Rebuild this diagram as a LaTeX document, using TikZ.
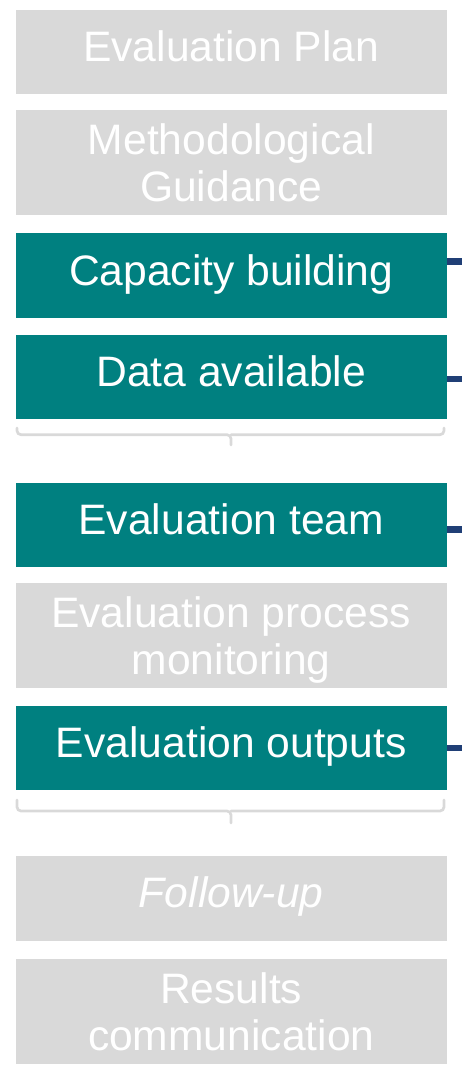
\documentclass[tikz,border=0pt]{standalone}
\usepackage{fontspec}
\setmainfont{Liberation Sans}
\definecolor{teal1}{HTML}{008080}
\definecolor{grey1}{HTML}{D9D9D9}
\definecolor{navy1}{HTML}{203F76}
\tikzset{
  box/.style={rectangle, inner sep=0pt, minimum width=431.5pt, draw=none},
  greybox/.style={box, fill=grey1},
  tealbox/.style={box, fill=teal1},
  lbl/.style={anchor=base, text=white, font=\fontsize{42.6}{47}\selectfont, inner sep=0pt},
  bracket/.style={draw=grey1, line width=2.7pt, rounded corners=4pt, line cap=round},
  tick/.style={draw=navy1, line width=6.5pt}
}
\begin{document}
\begin{tikzpicture}[x=1pt,y=-1pt]
\useasboundingbox (0,0) rectangle (462,1081);
% boxes
\node[greybox, minimum height=84pt]  (plan) at (231.25,52) {};
\node[greybox, minimum height=105pt] (meth) at (231.25,162.5) {};
\node[tealbox, minimum height=85pt]  (cap)  at (231.25,275.5) {};
\node[tealbox, minimum height=84pt]  (data) at (231.25,377) {};
\node[tealbox, minimum height=84pt]  (team) at (231.25,525) {};
\node[greybox, minimum height=105pt] (proc) at (231.25,635.5) {};
\node[tealbox, minimum height=84pt]  (outp) at (231.25,748) {};
\node[greybox, minimum height=85pt]  (foll) at (231.25,898.5) {};
\node[greybox, minimum height=105pt] (resu) at (231.25,1011.5) {};
% labels
\node[lbl] (planT) at ([yshift=-9.5pt]plan.center) {Evaluation Plan};
\node[lbl] (methA) at ([yshift=8pt]meth.center) {Methodological};
\node[lbl] (methB) at ([yshift=-39pt]meth.center) {Guidance};
\node[lbl] (capT)  at ([yshift=-9.5pt]cap.center) {Capacity building};
\node[lbl] (dataT) at ([yshift=-9.5pt]data.center) {Data available};
\node[lbl] (teamT) at ([yshift=-9.5pt]team.center) {Evaluation team};
\node[lbl] (procA) at ([yshift=8pt]proc.center) {Evaluation process};
\node[lbl] (procB) at ([yshift=-39pt]proc.center) {monitoring};
\node[lbl] (outpT) at ([yshift=-9.5pt]outp.center) {Evaluation outputs};
\node[lbl] (follT) at ([yshift=-8.5pt]foll.center) {\itshape Follow-up};
\node[lbl] (resuA) at ([yshift=8pt]resu.center) {Results};
\node[lbl] (resuB) at ([yshift=-39pt]resu.center) {communication};
% brackets
\coordinate (b1l) at (17,428);
\coordinate (b1r) at (444,428);
\coordinate (b1m) at (231,434.7);
\coordinate (b1s) at (231,445);
\draw[bracket] (b1l) |- (b1m) -- (b1s);
\draw[bracket] (b1r) |- (b1m);
\coordinate (b2l) at (17,800);
\coordinate (b2r) at (444,800);
\coordinate (b2m) at (231,811);
\coordinate (b2s) at (231,823);
\draw[bracket] (b2l) |- (b2m) -- (b2s);
\draw[bracket] (b2r) |- (b2m);
% connectors leaving to the right
\coordinate (e1) at (462,261.5);
\coordinate (e2) at (462,379);
\coordinate (e3) at (462,529.7);
\coordinate (e4) at (462,748);
\draw[tick] (cap.east |- e1) -- (e1);
\draw[tick] (data.east |- e2) -- (e2);
\draw[tick] (team.east |- e3) -- (e3);
\draw[tick] (outp.east |- e4) -- (e4);
\end{tikzpicture}
\end{document}
